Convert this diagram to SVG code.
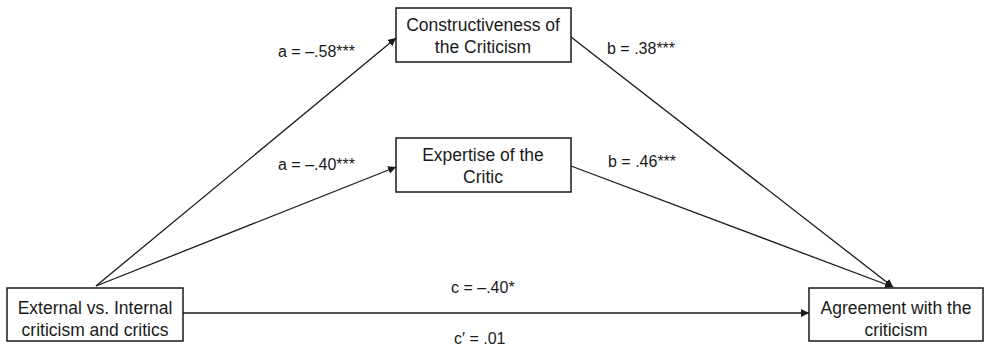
<svg xmlns="http://www.w3.org/2000/svg" width="985" height="348" viewBox="0 0 985 348">
<style>
.box{fill:#fff;stroke:#1a1a1a;stroke-width:1.5}
.t{font-family:"Liberation Sans",Arial,sans-serif;font-size:17.5px;fill:#1a1a1a;text-anchor:middle}
.l{font-family:"Liberation Sans",Arial,sans-serif;font-size:16px;fill:#1a1a1a}
.c{stroke:#1a1a1a;stroke-width:1.3;fill:none;marker-end:url(#ah)}
</style>
<defs>
<marker id="ah" viewBox="0 0 10 10" refX="10" refY="5" markerWidth="8" markerHeight="8" markerUnits="userSpaceOnUse" orient="auto">
<path d="M0,0 L10,5 L0,10 z" fill="#1a1a1a"/>
</marker>
</defs>
<rect width="985" height="348" fill="#fff"/>
<g id="connectors">
<line class="c" x1="96" y1="286" x2="396" y2="38"/>
<line class="c" x1="96" y1="286" x2="396" y2="167"/>
<line class="c" x1="571" y1="37" x2="893" y2="287"/>
<line class="c" x1="571" y1="166" x2="893" y2="287"/>
<line class="c" x1="183" y1="313" x2="809" y2="313"/>
</g>
<g id="labels">
<text class="l" x="278" y="57">a = –.58***</text>
<text class="l" x="607" y="54">b = .38***</text>
<text class="l" x="278" y="170">a = –.40***</text>
<text class="l" x="608" y="167">b = .46***</text>
<text class="l" x="451" y="293">c = –.40*</text>
<text class="l" x="454" y="344">c′ = .01</text>
</g>
<g id="n_ext">
<rect class="box" x="7" y="288" width="176" height="53"/>
<text class="t" x="95" y="314">External vs. Internal</text>
<text class="t" x="95" y="336">criticism and critics</text>
</g>
<g id="n_con">
<rect class="box" x="396" y="8" width="175" height="54"/>
<text class="t" x="483" y="31">Constructiveness of</text>
<text class="t" x="483" y="53">the Criticism</text>
</g>
<g id="n_exp">
<rect class="box" x="396" y="138" width="175" height="54"/>
<text class="t" x="483" y="161">Expertise of the</text>
<text class="t" x="483" y="183">Critic</text>
</g>
<g id="n_agr">
<rect class="box" x="809" y="288" width="174" height="53"/>
<text class="t" x="896" y="314">Agreement with the</text>
<text class="t" x="896" y="336">criticism</text>
</g>
</svg>
